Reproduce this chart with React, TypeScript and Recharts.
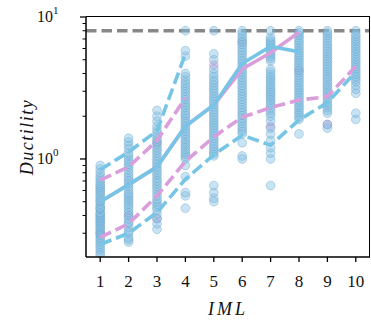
import React from 'react';
import { ComposedChart, Scatter, Line, XAxis, YAxis, Label } from 'recharts';

const imlLevels = [1, 2, 3, 4, 5, 6, 7, 8, 9, 10];

const ductIml1 = [0.21, 0.22, 0.23, 0.24, 0.25, 0.26, 0.27, 0.28, 0.29, 0.3, 0.31, 0.32, 0.33, 0.34, 0.35, 0.36, 0.37, 0.38, 0.39, 0.4, 0.41, 0.42, 0.44, 0.45, 0.46, 0.48, 0.5, 0.51, 0.53, 0.55, 0.57, 0.59, 0.61, 0.63, 0.65, 0.67, 0.7, 0.73, 0.76, 0.8, 0.85, 0.9];
const ductIml2 = [0.26, 0.27, 0.28, 0.3, 0.31, 0.33, 0.35, 0.36, 0.38, 0.4, 0.42, 0.44, 0.46, 0.48, 0.5, 0.52, 0.54, 0.56, 0.58, 0.61, 0.64, 0.67, 0.7, 0.73, 0.76, 0.8, 0.84, 0.88, 0.92, 0.96, 1.0, 1.05, 1.1, 1.18, 1.25, 1.32, 1.4];
const ductIml3 = [0.32, 0.35, 0.38, 0.41, 0.44, 0.46, 0.48, 0.5, 0.52, 0.55, 0.58, 0.61, 0.64, 0.67, 0.7, 0.73, 0.77, 0.8, 0.84, 0.88, 0.92, 0.96, 1.0, 1.05, 1.1, 1.15, 1.2, 1.26, 1.32, 1.38, 1.45, 1.52, 1.6, 1.7, 1.85, 2.0, 2.2];
const ductIml4 = [0.45, 0.55, 0.58, 0.75, 0.9, 1.0, 1.04, 1.08, 1.12, 1.17, 1.22, 1.27, 1.32, 1.38, 1.44, 1.5, 1.57, 1.64, 1.71, 1.78, 1.86, 1.94, 2.02, 2.1, 2.2, 2.3, 2.4, 2.5, 2.62, 2.74, 2.86, 3.0, 3.14, 3.28, 3.43, 3.6, 3.8, 4.0, 5.3, 5.8, 8.0];
const ductIml5 = [0.5, 0.53, 0.58, 0.65, 1.05, 1.09, 1.13, 1.18, 1.23, 1.28, 1.34, 1.4, 1.46, 1.52, 1.59, 1.66, 1.73, 1.8, 1.88, 1.96, 2.05, 2.14, 2.23, 2.33, 2.43, 2.54, 2.65, 2.77, 2.9, 3.03, 3.16, 3.3, 3.45, 3.6, 3.8, 4.0, 4.3, 5.0, 5.5, 8.0];
const ductIml6 = [1.0, 1.05, 1.3, 1.5, 1.56, 1.63, 1.7, 1.78, 1.86, 1.94, 2.03, 2.12, 2.21, 2.31, 2.42, 2.53, 2.64, 2.76, 2.88, 3.01, 3.15, 3.29, 3.44, 3.6, 3.76, 3.93, 4.1, 4.3, 4.5, 4.7, 4.9, 5.1, 5.35, 5.6, 5.85, 6.1, 6.4, 6.7, 7.0, 7.3, 7.65, 8.0];
const ductIml7 = [0.65, 1.0, 1.1, 1.2, 1.35, 1.5, 1.65, 1.85, 2.0, 2.1, 2.2, 2.3, 2.4, 2.5, 2.6, 2.7, 2.8, 2.9, 3.0, 3.12, 3.24, 3.36, 3.5, 3.64, 3.78, 3.92, 4.1, 4.3, 4.9, 5.1, 5.3, 5.5, 5.7, 5.9, 6.1, 6.3, 6.5, 6.7, 6.9, 7.2, 8.0];
const ductIml8 = [1.5, 1.9, 1.97, 2.05, 2.13, 2.22, 2.31, 2.4, 2.5, 2.6, 2.71, 2.82, 2.94, 3.06, 3.18, 3.31, 3.45, 3.59, 3.74, 3.89, 4.05, 4.22, 4.4, 4.58, 4.77, 4.97, 5.17, 5.38, 5.6, 5.83, 6.07, 6.32, 6.58, 6.85, 7.13, 7.42, 7.72, 8.0];
const ductIml9 = [1.65, 1.75, 2.1, 2.2, 2.3, 2.4, 2.5, 2.62, 2.74, 2.86, 2.98, 3.1, 3.23, 3.37, 3.51, 3.66, 3.81, 3.97, 4.14, 4.31, 4.49, 4.68, 4.88, 5.08, 5.3, 5.52, 5.75, 6.0, 6.25, 6.5, 6.8, 7.1, 7.4, 7.7, 8.0];
const ductIml10 = [1.9, 2.1, 2.9, 3.1, 3.3, 3.5, 3.65, 3.8, 3.96, 4.12, 4.3, 4.48, 4.66, 4.86, 5.06, 5.27, 5.49, 5.72, 5.96, 6.2, 6.46, 6.73, 7.0, 7.3, 7.6, 8.0];

const pinkPointIml = [1, 2, 3, 3, 5, 6, 7, 8, 9];
const pinkPointDuct = [0.3, 0.4, 0.38, 1.3, 4.6, 6.6, 1.7, 4.2, 1.75];

const blueMedianIml = [1, 2, 3, 4, 5, 6, 7, 8];
const blueMedian = [0.5, 0.66, 0.88, 1.7, 2.4, 4.7, 6.2, 5.7];
const pinkMedianIml = [1, 2, 3, 4, 5, 6, 7, 8];
const pinkMedian = [0.5, 0.66, 0.88, 1.7, 2.4, 4.3, 5.6, 7.8];

const blueUpperIml = [1, 2, 3, 4];
const blueUpper = [0.84, 1.12, 1.58, 5.5];
const pinkUpperIml = [1, 2, 3, 4];
const pinkUpper = [0.71, 0.88, 1.35, 2.7];

const blueLowerIml = [1, 2, 3, 4, 5, 6, 7, 8, 9, 10];
const blueLower = [0.25, 0.3, 0.42, 0.72, 1.07, 1.47, 1.25, 1.88, 2.5, 4.1];
const pinkLowerIml = [1, 2, 3, 4, 5, 6, 7, 8, 9, 10];
const pinkLower = [0.28, 0.35, 0.55, 0.96, 1.43, 1.97, 2.3, 2.6, 2.75, 4.5];

const capIml = [0.5, 10.5];
const capDuct = [8, 8];

const yTicks = [0.3, 0.4, 0.5, 0.6, 0.7, 0.8, 0.9, 1, 2, 3, 4, 5, 6, 7, 8, 9, 10];

const X_DOMAIN: [number, number] = [0.5, 10.5];
const Y_DOMAIN: [number, number] = [0.204, 10];

const zip = (xs: number[], ys: number[]) => xs.map((x, i) => ({ x, y: ys[i] }));

const blueScatter = [ductIml1, ductIml2, ductIml3, ductIml4, ductIml5, ductIml6, ductIml7, ductIml8, ductIml9, ductIml10]
  .flatMap((arr, i) => arr.map((y) => ({ x: imlLevels[i], y })));
const pinkScatter = zip(pinkPointIml, pinkPointDuct);

const BLUE = '#76C5E6';
const PINK = '#DA9EDC';
const FONT = "'Liberation Serif', 'DejaVu Serif', serif";

// layout
const W = 371;
const H = 324;
const MARGIN = { top: 17, right: 1, left: 0, bottom: 0 };
const Y_AXIS_W = 86;
const X_AXIS_H = 67;
const SPINE = 1.5;

const blueDot = (p: any) => (
  <circle cx={p.cx} cy={p.cy} r={4.4} fill="#86c0e2" fillOpacity={0.45} stroke="#4f90c0" strokeOpacity={0.4} strokeWidth={0.8} />
);
const pinkDot = (p: any) => (
  <circle cx={p.cx} cy={p.cy} r={4.4} fill="#d9a4dc" fillOpacity={0.6} stroke="#b58abf" strokeOpacity={0.4} strokeWidth={0.8} />
);

const YTick = (props: any) => {
  const { x, y, payload } = props;
  const v = payload.value;
  const major = v === 1 || v === 10;
  const len = major ? 6 : 3.5;
  return (
    <g>
      <line x1={x - len} x2={x} y1={y} y2={y} stroke="#000" strokeWidth={major ? 1.3 : 1} />
      {major && (
        <text x={x - 49} y={y + 5} textAnchor="start" fontFamily={FONT} fontSize={16} fill="#111">
          10
          <tspan dy={-8} fontSize={11}>{v === 10 ? '1' : '0'}</tspan>
        </text>
      )}
    </g>
  );
};

const XTick = (props: any) => {
  const { x, y, payload } = props;
  return (
    <g>
      <line x1={x} x2={x} y1={y} y2={y + 5} stroke="#000" strokeWidth={1.3} />
      <text x={x} y={y + 30} textAnchor="middle" fontFamily={FONT} fontSize={17} fill="#111">
        {payload.value}
      </text>
    </g>
  );
};

const axisLineStyle = { stroke: '#000', strokeWidth: SPINE };

export default function App() {
  const plotLeft = MARGIN.left + Y_AXIS_W;
  const plotTop = MARGIN.top;
  const plotRight = W - MARGIN.right;
  const plotBottom = H - MARGIN.bottom - X_AXIS_H;
  return (
    <div style={{ position: 'absolute', left: 0, top: 0, width: W, height: H, background: '#fff' }}>
      <ComposedChart width={W} height={H} margin={MARGIN}>
        <XAxis
          type="number"
          dataKey="x"
          domain={X_DOMAIN}
          ticks={imlLevels}
          interval={0}
          allowDataOverflow
          height={X_AXIS_H}
          tickSize={0}
          tickMargin={0}
          tickLine={false}
          axisLine={axisLineStyle}
          tick={<XTick />}
          label={
            <Label
              content={() => (
                <text x={228} y={315} textAnchor="middle" fontFamily={FONT} fontStyle="italic" fontSize={18} letterSpacing={3} fill="#111">
                  IML
                </text>
              )}
            />
          }
        />
        <YAxis
          type="number"
          dataKey="y"
          scale="log"
          domain={Y_DOMAIN}
          ticks={yTicks}
          interval={0}
          allowDataOverflow
          width={Y_AXIS_W}
          tickSize={0}
          tickMargin={0}
          tickLine={false}
          axisLine={axisLineStyle}
          tick={<YTick />}
          label={
            <Label
              content={() => (
                <text x={27} y={137} transform="rotate(-90 27 137)" textAnchor="middle" dominantBaseline="central" fontFamily={FONT} fontStyle="italic" fontSize={18} letterSpacing={1.5} fill="#111">
                  Ductility
                </text>
              )}
            />
          }
        />

        <Line data={zip(capIml, capDuct)} dataKey="y" stroke="#888" strokeWidth={3.5} strokeDasharray="10.5 5" dot={false} isAnimationActive={false} zIndex={250} />
        <Scatter data={pinkScatter} dataKey="y" shape={pinkDot} isAnimationActive={false} zIndex={300} />
        <Scatter data={blueScatter} dataKey="y" shape={blueDot} isAnimationActive={false} zIndex={310} />

        <Line data={zip(pinkMedianIml, pinkMedian)} dataKey="y" stroke={PINK} strokeWidth={3.6} dot={false} isAnimationActive={false} />
        <Line data={zip(pinkUpperIml, pinkUpper)} dataKey="y" stroke={PINK} strokeWidth={3.6} strokeDasharray="12 5" dot={false} isAnimationActive={false} />
        <Line data={zip(pinkLowerIml, pinkLower)} dataKey="y" stroke={PINK} strokeWidth={3.6} strokeDasharray="12 5" dot={false} isAnimationActive={false} />
        <Line data={zip(blueMedianIml, blueMedian)} dataKey="y" stroke={BLUE} strokeWidth={3.6} dot={false} isAnimationActive={false} />
        <Line data={zip(blueUpperIml, blueUpper)} dataKey="y" stroke={BLUE} strokeWidth={3.6} strokeDasharray="12 5" dot={false} isAnimationActive={false} />
        <Line data={zip(blueLowerIml, blueLower)} dataKey="y" stroke={BLUE} strokeWidth={3.6} strokeDasharray="12 5" dot={false} isAnimationActive={false} />
      </ComposedChart>
      {/* top and right spines of the axes frame */}
      <div
        style={{
          position: 'absolute',
          left: plotLeft,
          top: plotTop - SPINE / 2,
          width: plotRight - plotLeft + SPINE / 2 - SPINE,
          height: plotBottom - plotTop,
          borderTop: `${SPINE}px solid #000`,
          borderRight: `${SPINE}px solid #000`,
          pointerEvents: 'none',
        }}
      />
    </div>
  );
}
